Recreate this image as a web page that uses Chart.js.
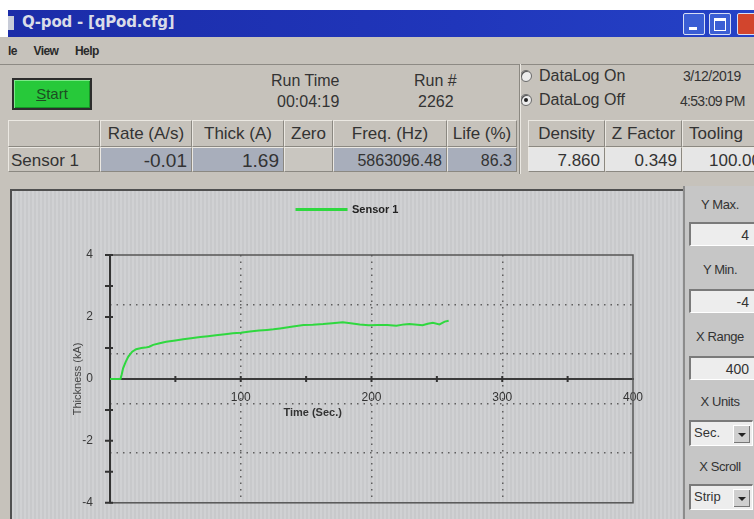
<!DOCTYPE html>
<html>
<head>
<meta charset="utf-8">
<script src="https://cdn.jsdelivr.net/npm/chart.js@4/dist/chart.umd.min.js"></script>
<style>
  html,body{margin:0;padding:0;}
  body{width:754px;height:519px;overflow:hidden;position:relative;background:#ffffff;font-family:"Liberation Sans",Arial,sans-serif;color:#2e2e2e;}
  .abs{position:absolute;}
  #win{left:0;top:37px;width:754px;height:482px;background:#c6c2bb;}
  #titlebar{left:8px;top:10px;width:746px;height:27px;background:linear-gradient(90deg,#1b2ca8 0%,#2036bb 60%,#2542c6 100%);}
  #ticon{left:8px;top:16px;width:6px;height:14px;background:#c8ccd8;}
  #ttext{left:22px;top:13px;font-family:"DejaVu Sans",sans-serif;font-size:15px;font-weight:bold;color:#d9dce8;letter-spacing:-0.2px;}
  .wbtn{top:13px;width:20px;height:20px;border:1px solid #d6def4;background:#3b5ed4;border-radius:2px;}
  #menubar{left:8px;top:44px;font-size:12px;font-weight:bold;color:#2a2a2a;word-spacing:14px;letter-spacing:-0.6px;}
  #menuline{left:0;top:64px;width:754px;height:1px;background:#8d8a84;}
  #start{left:12px;top:78px;width:76px;height:28px;border:2px solid #2d2d2d;background:#27c93a;box-shadow:inset 1px 1px 0 #7de889, inset -1px -1px 0 #169526;text-align:center;line-height:28px;font-size:15px;color:#1d4d22;}
  #start u{text-decoration:underline;}
  .lbl{font-size:16px;color:#333;white-space:nowrap;}
  .cell{position:absolute;box-sizing:border-box;border-right:1px solid #8b8881;border-bottom:1px solid #8b8881;border-top:1px solid #ebe8e2;border-left:1px solid #ebe8e2;font-size:17px;color:#333;white-space:nowrap;overflow:hidden;}
  .hdr{top:120px;height:27px;background:#c6c2bb;text-align:center;line-height:25px;}
  .val{top:147px;height:25px;line-height:26px;text-align:right;padding-right:4px;font-size:19px;}
  .blue{background:#a8aebb;}
  .white{background:#e6e6e6;font-size:17px;}
  .radio{width:10px;height:10px;border-radius:50%;border:1px solid #6a6a6a;background:#ececec;box-shadow:inset 1px 1px 0 #555;}
  #chartpanel{left:10px;top:189px;width:673px;height:330px;box-sizing:border-box;border-left:2px solid #505050;border-top:2px solid #505050;background:repeating-linear-gradient(90deg,#d0d1d3 0px,#d0d1d3 2px,#c8c9cb 2px,#c8c9cb 4px);}
  #chart{position:absolute;left:0;top:0;}
  #rightpanel{left:683px;top:186px;width:71px;height:333px;background:#c6c6c6;border-left:2px solid #8c8c8c;box-sizing:border-box;}
  .rl{font-size:13px;color:#333;width:74px;text-align:center;left:683px;letter-spacing:-0.4px;}
  .inp{left:689px;width:66px;height:24px;box-sizing:border-box;background:#ededed;border-top:2px solid #7a7a7a;border-left:2px solid #7a7a7a;border-bottom:1px solid #fff;text-align:right;padding-right:6px;font-size:14px;line-height:22px;color:#333;}
  .sel{left:689px;width:64px;height:26px;box-sizing:border-box;background:#ededed;border:2px solid #7a7a7a;border-right:1px solid #fff;border-bottom:1px solid #fff;font-size:13px;line-height:22px;padding-left:3px;color:#333;}
  .arrow{position:absolute;right:2px;top:3px;width:16px;height:17px;background:#cfcfcf;border-left:1px solid #fff;border-top:1px solid #fff;box-shadow:inset -1px -1px 0 #777;}
  .arrow:after{content:"";position:absolute;left:4px;top:7px;border-left:4px solid transparent;border-right:4px solid transparent;border-top:4px solid #222;}
</style>
</head>
<body>
<div id="win" class="abs"></div>
<div id="titlebar" class="abs"></div>
<div id="ticon" class="abs"></div>
<div id="ttext" class="abs">Q-pod - [qPod.cfg]</div>
<div class="abs wbtn" style="left:683px;"><div class="abs" style="left:5px;top:13px;width:8px;height:3px;background:#fff;"></div></div>
<div class="abs wbtn" style="left:709px;"><div class="abs" style="left:4px;top:4px;width:10px;height:9px;border:1px solid #fff;border-top:3px solid #fff;"></div></div>
<div class="abs wbtn" style="left:737px;width:20px;background:#d2452d;"></div>

<div id="menubar" class="abs">le View Help</div>
<div id="menuline" class="abs"></div>

<div id="start" class="abs"><u>S</u>tart</div>
<div class="abs lbl" style="left:271px;top:72px;">Run Time</div>
<div class="abs lbl" style="left:277px;top:93px;">00:04:19</div>
<div class="abs lbl" style="left:414px;top:72px;">Run #</div>
<div class="abs lbl" style="left:418px;top:93px;">2262</div>
<div class="abs radio" style="left:520px;top:70px;"></div>
<div class="abs lbl" style="left:539px;top:67px;">DataLog On</div>
<div class="abs radio" style="left:520px;top:94px;"><div class="abs" style="left:3px;top:3px;width:4px;height:4px;border-radius:50%;background:#222;"></div></div>
<div class="abs lbl" style="left:539px;top:91px;">DataLog Off</div>
<div class="abs lbl" style="left:683px;top:68px;font-size:14px;letter-spacing:-0.5px;">3/12/2019</div>
<div class="abs lbl" style="left:680px;top:93px;font-size:14px;letter-spacing:-0.7px;">4:53:09 PM</div>
<div class="abs" style="left:519px;top:64px;width:1px;height:110px;background:#8b8881;"></div>
<div class="abs" style="left:520px;top:64px;width:1px;height:110px;background:#ebe8e2;"></div>

<div class="cell hdr" style="left:8px;width:92px;"></div>
<div class="cell hdr" style="left:100px;width:92px;">Rate (A/s)</div>
<div class="cell hdr" style="left:192px;width:92px;">Thick (A)</div>
<div class="cell hdr" style="left:284px;width:49px;">Zero</div>
<div class="cell hdr" style="left:333px;width:114px;">Freq. (Hz)</div>
<div class="cell hdr" style="left:447px;width:70px;">Life (%)</div>
<div class="cell hdr" style="left:528px;width:77px;">Density</div>
<div class="cell hdr" style="left:605px;width:77px;">Z Factor</div>
<div class="cell hdr" style="left:682px;width:80px;text-align:left;padding-left:6px;">Tooling</div>

<div class="cell val" style="left:8px;width:92px;text-align:left;padding-left:2px;font-size:17px;">Sensor 1</div>
<div class="cell val blue" style="left:100px;width:92px;">-0.01</div>
<div class="cell val blue" style="left:192px;width:92px;">1.69</div>
<div class="cell val" style="left:284px;width:49px;background:#c9c6c0;"></div>
<div class="cell val blue" style="left:333px;width:114px;font-size:16px;">5863096.48</div>
<div class="cell val blue" style="left:447px;width:70px;font-size:16px;">86.3</div>
<div class="cell val white" style="left:528px;width:77px;">7.860</div>
<div class="cell val white" style="left:605px;width:77px;">0.349</div>
<div class="cell val white" style="left:682px;width:80px;text-align:left;padding-left:26px;">100.00</div>

<div id="chartpanel" class="abs"><canvas id="chart" width="671" height="328"></canvas></div>

<div id="rightpanel" class="abs"></div>
<div class="abs rl" style="top:197px;">Y Max.</div>
<div class="abs inp" style="top:222px;">4</div>
<div class="abs rl" style="top:262px;">Y Min.</div>
<div class="abs inp" style="top:289px;">-4</div>
<div class="abs rl" style="top:329px;">X Range</div>
<div class="abs inp" style="top:356px;">400</div>
<div class="abs rl" style="top:394px;">X Units</div>
<div class="abs sel" style="top:420px;">Sec.<div class="arrow"></div></div>
<div class="abs rl" style="top:459px;">X Scroll</div>
<div class="abs sel" style="top:484px;">Strip<div class="arrow"></div></div>

<script>
// ---- data ----
const seriesLabel = 'Sensor 1';
const xTitle = 'Time (Sec.)';
const yTitle = 'Thickness (kA)';
const yMin = -4;
const yMax = 4;
const xRange = 400;
const timeSec = [0, 8, 9, 10, 12, 14, 17, 20, 24, 27, 30, 33, 38, 43, 50, 56, 62, 69, 75, 81, 88, 94, 100, 107, 114, 120, 125, 130, 140, 148, 155, 163, 170, 178, 184, 191, 198, 205, 212, 219, 225, 229, 235, 239, 243, 247, 252, 256, 259];
const thicknessKA = [0, 0, 0.15, 0.34, 0.55, 0.72, 0.88, 0.96, 1.0, 1.01, 1.04, 1.1, 1.15, 1.2, 1.24, 1.28, 1.31, 1.35, 1.38, 1.41, 1.44, 1.47, 1.49, 1.53, 1.56, 1.58, 1.6, 1.63, 1.69, 1.74, 1.75, 1.77, 1.8, 1.83, 1.8, 1.76, 1.73, 1.74, 1.74, 1.72, 1.76, 1.77, 1.75, 1.73, 1.78, 1.81, 1.76, 1.85, 1.88];

Chart.defaults.font.family = '"Liberation Sans", Arial, sans-serif';

const decor = {
  id: 'decor',
  beforeDatasetsDraw(chart) {
    const {ctx, chartArea: a, scales} = chart;
    const xs = scales.x, ys = scales.y;
    const y0 = ys.getPixelForValue(0);
    ctx.save();
    ctx.strokeStyle = '#555';
    ctx.lineWidth = 1.5;
    ctx.strokeRect(a.left, a.top, a.right - a.left, a.bottom - a.top);
    ctx.strokeStyle = '#333';
    ctx.lineWidth = 2;
    ctx.beginPath();
    ctx.moveTo(a.left, a.top); ctx.lineTo(a.left, a.bottom);
    xs.ticks.forEach(t => {
      if (t.value <= 0 || t.value >= xRange) return;
      const px = xs.getPixelForValue(t.value);
      ctx.moveTo(px, y0 - 3); ctx.lineTo(px, y0 + 3);
    });
    ys.ticks.forEach(t => {
      if (t.value === 0) return;
      const py = ys.getPixelForValue(t.value);
      ctx.moveTo(a.left - 5, py); ctx.lineTo(a.left + 3, py);
    });
    ctx.stroke();
    ctx.restore();
  },
  afterDraw(chart) {
    const {ctx, scales} = chart;
    ctx.save();
    ctx.font = 'bold 11px "Liberation Sans", Arial, sans-serif';
    ctx.fillStyle = '#333';
    ctx.textAlign = 'center';
    ctx.textBaseline = 'middle';
    ctx.fillText(xTitle, scales.x.getPixelForValue(155), scales.y.getPixelForValue(0) + 34);
    ctx.restore();
  }
};

const gridColor = (ends) => (c) => (c.tick && ends.includes(c.tick.value)) ? 'rgba(0,0,0,0)' : '#5e5e5e';

new Chart(document.getElementById('chart'), {
  type: 'line',
  data: {
    datasets: [{
      label: seriesLabel,
      data: timeSec.map((t, i) => ({x: t, y: thicknessKA[i]})),
      borderColor: '#2fd83f',
      backgroundColor: '#2fd83f',
      borderWidth: 2,
      pointRadius: 0,
      tension: 0,
      fill: false
    }]
  },
  options: {
    responsive: false,
    animation: false,
    devicePixelRatio: 1,
    layout: {padding: {top: 3, bottom: 16, left: 0, right: 0}},
    plugins: {
      legend: {
        position: 'top',
        labels: {boxWidth: 50, boxHeight: 1, padding: 10, color: '#222', font: {size: 11, weight: 'bold'}}
      },
      tooltip: {enabled: false}
    },
    scales: {
      x: {
        type: 'linear', position: {y: 0}, min: 0, max: xRange,
        ticks: {stepSize: 50, autoSkip: false, maxRotation: 0, padding: 4, color: '#333', font: {size: 12},
          callback: v => (v % 100 === 0 && v > 0) ? String(v) : ''},
        grid: {display: false},
        border: {display: true, color: '#3a3a3a', width: 2},
        title: {display: false, text: xTitle}
      },
      x2: {
        type: 'linear', position: 'top', min: 0, max: xRange,
        ticks: {display: false, stepSize: 100},
        grid: {color: gridColor([0, xRange]), lineWidth: 1.5, drawTicks: false},
        border: {display: false, dash: [1.5, 5]},
        afterFit: s => { s.height = 30; }
      },
      y: {
        type: 'linear', position: 'left', min: yMin, max: yMax,
        ticks: {stepSize: 1, padding: 9, color: '#3a3a3a', font: {size: 12},
          callback: v => (v % 2 === 0) ? String(v) : ''},
        grid: {display: false},
        border: {display: false},
        title: {display: true, text: yTitle, color: '#444', font: {size: 11}, padding: {top: 59, bottom: 0}},
        afterFit: s => { s.width = 98; }
      },
      y2: {
        type: 'linear', position: 'right', min: yMin, max: yMax,
        ticks: {display: false, stepSize: 1.6},
        grid: {color: gridColor([yMin, yMax]), lineWidth: 1.5, drawTicks: false},
        border: {display: false, dash: [1.5, 5]},
        afterFit: s => { s.width = 50; }
      }
    }
  },
  plugins: [decor]
});
</script>
</body>
</html>
